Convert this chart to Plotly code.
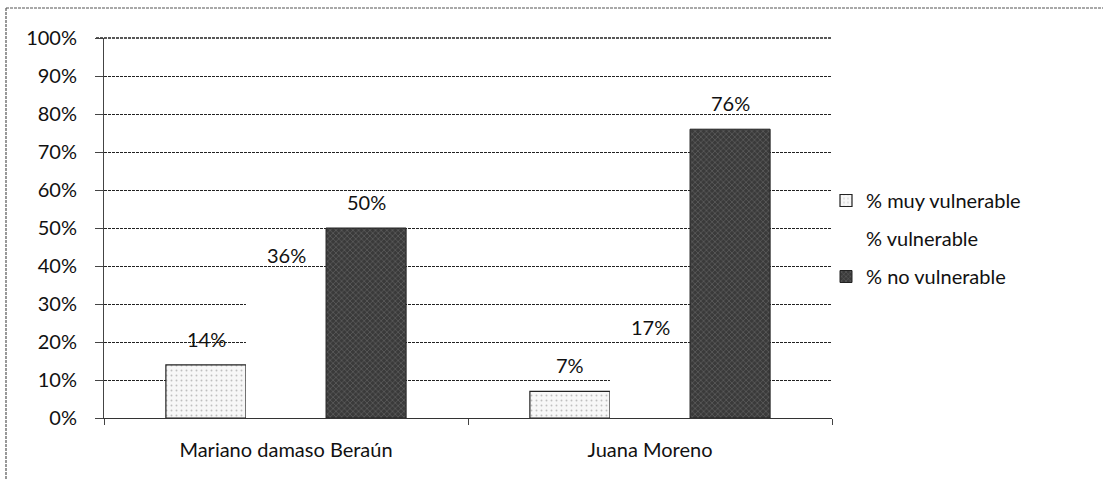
import plotly.graph_objects as go

categories = ["Mariano damaso Beraún", "Juana Moreno"]
series_names = ["% muy vulnerable", "% vulnerable", "% no vulnerable"]
muy_vulnerable = [14, 7]
vulnerable = [36, 17]
no_vulnerable = [50, 76]
y_ticks = list(range(0, 101, 10))

FONT = "Lato, 'Open Sans', sans-serif"
FS = 20

L, R, T, B = 104, 832, 38, 418
W, H = 1103, 480
BAR_PX = 80

def px_x(px):
    return (px - L) / (R - L)

def px_y(py):
    return (B - py) / (B - T)

fig = go.Figure()
fig.add_trace(go.Bar(
    name=series_names[0], x=categories, y=muy_vulnerable,
    marker=dict(color="#f4f4f4", line=dict(color="#222", width=1.2),
                pattern=dict(shape=".", fgcolor="#888", bgcolor="#f7f7f7", size=5, solidity=0.12)),
    legendgroup="a",
))
fig.add_trace(go.Bar(
    name=series_names[1], x=categories, y=vulnerable,
    marker=dict(color="#ffffff", line=dict(color="#ffffff", width=0)),
    legendgroup="b",
))
fig.add_trace(go.Bar(
    name=series_names[2], x=categories, y=no_vulnerable,
    marker=dict(color="#404040", line=dict(color="#222", width=1),
                pattern=dict(shape="x", fgcolor="#a0a0a0", bgcolor="#3a3a3a", size=4, solidity=0.25)),
    legendgroup="c",
))

# value labels above each bar
for s_idx, vals in enumerate([muy_vulnerable, vulnerable, no_vulnerable]):
    for c_idx, v in enumerate(vals):
        fig.add_annotation(
            x=categories[c_idx], y=v, xref="x", yref="y",
            text=f"{v}%", showarrow=False, yanchor="bottom",
            xshift=(s_idx - 1) * BAR_PX, yshift=12,
            font=dict(size=FS, family=FONT, color="#111"),
        )

fig.update_layout(
    width=W, height=H,
    margin=dict(l=L, r=W - R, t=T, b=H - B),
    paper_bgcolor="white", plot_bgcolor="white",
    barmode="group", bargap=0.34, bargroupgap=0,
    font=dict(family=FONT, size=FS, color="#111"),
    legend=dict(x=px_x(826), y=px_y(181), xanchor="left", yanchor="top",
                traceorder="grouped", tracegroupgap=9,
                font=dict(size=FS, family=FONT, color="#111"),
                itemwidth=30, bgcolor="rgba(0,0,0,0)"),
    showlegend=True,
)
fig.update_yaxes(
    range=[0, 100], tickvals=y_ticks, ticktext=[f"{v}%" for v in y_ticks],
    showgrid=True, gridcolor="#222", gridwidth=1.3, griddash="3px,1px",
    showline=True, linecolor="#444", linewidth=1,
    ticks="outside", ticklen=8, tickcolor="#444", ticklabelstandoff=14,
    tickfont=dict(size=FS, family=FONT, color="#111"),
    zeroline=False, layer="below traces",
)
fig.update_xaxes(
    showline=True, linecolor="#333", linewidth=1.3,
    ticks="outside", ticklen=6, tickcolor="#444", tickson="boundaries",
    ticklabelstandoff=14,
    tickfont=dict(size=FS, family=FONT, color="#111"),
    showgrid=False,
)
# top gridline at 100% (at the edge of the plot area)
fig.add_shape(type="line", xref="paper", yref="paper",
              x0=px_x(96), x1=1, y0=1, y1=1, layer="below",
              line=dict(color="#222", width=1.3, dash="3px,1px"))
# chart border (top and left, as in the scan)
fig.add_shape(type="line", xref="paper", yref="paper",
              x0=px_x(6), x1=px_x(1103), y0=px_y(8), y1=px_y(8),
              line=dict(color="#555", width=1.2, dash="3px,1px"))
fig.add_shape(type="line", xref="paper", yref="paper",
              x0=px_x(6), x1=px_x(6), y0=px_y(8), y1=px_y(480),
              line=dict(color="#555", width=1.2, dash="3px,1px"))

fig.write_html("out.html", config={"displayModeBar": False},
               post_script="document.body.style.margin='0';")
